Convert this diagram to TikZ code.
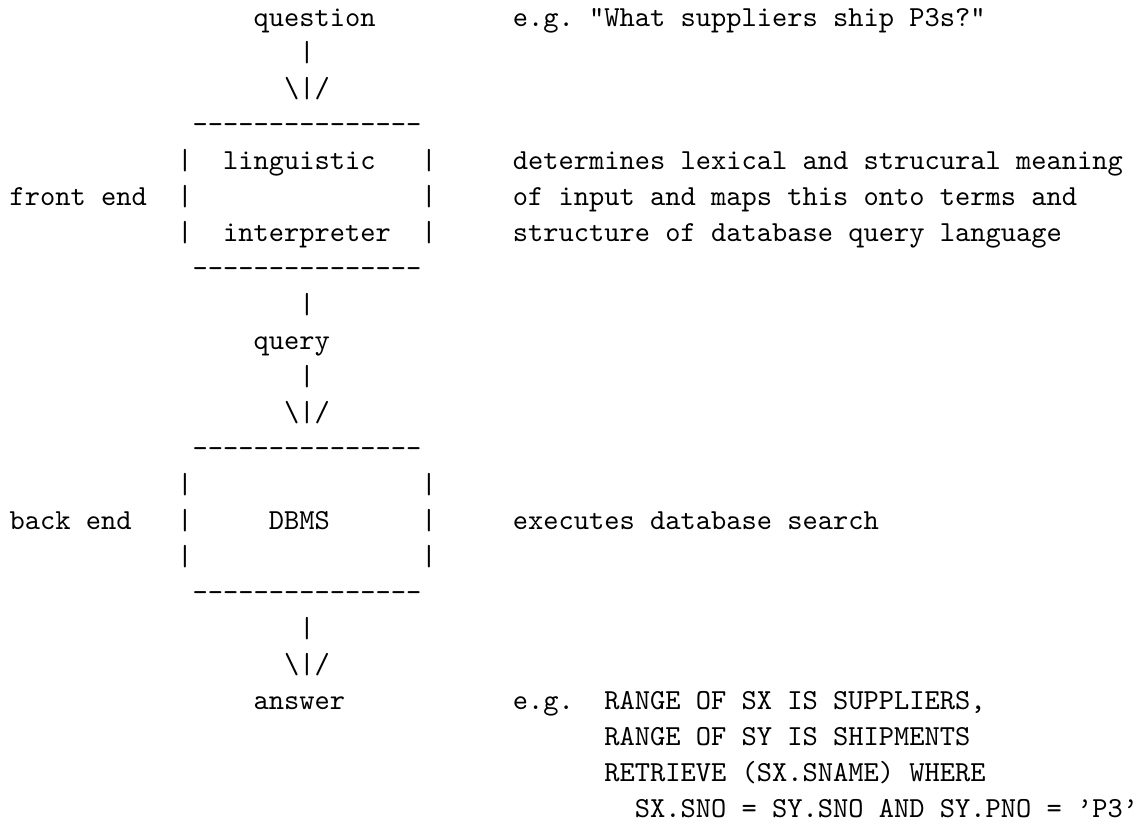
\documentclass[tikz,border=0pt]{standalone}
\tikzset{
  txt/.style={anchor=base west, inner sep=0pt, outer sep=0pt,
    font=\fontsize{10}{12}\selectfont\ttfamily\frenchspacing}
}
\newcommand\dashline{-\kern0pt-\kern0pt-\kern0pt-\kern0pt-\kern0pt-\kern0pt-\kern0pt-\kern0pt-\kern0pt-\kern0pt-\kern0pt-\kern0pt-\kern0pt-\kern0pt-}
\newcommand\arrowdown{\textbackslash|/}
\begin{document}
\begin{tikzpicture}[x=5.25pt,y=-12.39pt]
\fill[white] (-0.6286,0.2776) rectangle (74.19,23.26);
\useasboundingbox (-0.6286,0.2776) rectangle (74.19,23.26);
% row 1-3
\node[txt] (question) at (16,1) {question};
\node[txt] (eg1) at (33,1) {e.g. "What suppliers ship P3s?"};
\node[txt] (s1) at (19,2) {|};
\node[txt] (a1) at (18,3) {\arrowdown};
% front end box
\node[txt] (top1) at (12,4) {\dashline};
\node[txt] (l1) at (11,5) {|};
\node[txt] (ling) at (14,5) {linguistic};
\node[txt] (r1) at (27,5) {|};
\node[txt] (d1) at (33,5) {determines lexical and strucural meaning};
\node[txt] (fe) at (0,6) {front end};
\node[txt] (l2) at (11,6) {|};
\node[txt] (r2) at (27,6) {|};
\node[txt] (d2) at (33,6) {of input and maps this onto terms and};
\node[txt] (l3) at (11,7) {|};
\node[txt] (interp) at (14,7) {interpreter};
\node[txt] (r3) at (27,7) {|};
\node[txt] (d3) at (33,7) {structure of database query language};
\node[txt] (bot1) at (12,8) {\dashline};
% query
\node[txt] (s2) at (19,9) {|};
\node[txt] (query) at (16,10) {query};
\node[txt] (s3) at (19,11) {|};
\node[txt] (a2) at (18,12) {\arrowdown};
% back end box
\node[txt] (top2) at (12,13) {\dashline};
\node[txt] (l4) at (11,14) {|};
\node[txt] (r4) at (27,14) {|};
\node[txt] (be) at (0,15) {back end};
\node[txt] (l5) at (11,15) {|};
\node[txt] (dbms) at (17,15) {DBMS};
\node[txt] (r5) at (27,15) {|};
\node[txt] (exec) at (33,15) {executes database search};
\node[txt] (l6) at (11,16) {|};
\node[txt] (r6) at (27,16) {|};
\node[txt] (bot2) at (12,17) {\dashline};
% answer
\node[txt] (s4) at (19,18) {|};
\node[txt] (a3) at (18,19) {\arrowdown};
\node[txt] (answer) at (16,20) {answer};
\node[txt] (eg2) at (33,20) {e.g.};
\node[txt] (q1) at (39,20) {RANGE OF SX IS SUPPLIERS,};
\node[txt] (q2) at (39,21) {RANGE OF SY IS SHIPMENTS};
\node[txt] (q3) at (39,22) {RETRIEVE (SX.SNAME) WHERE};
\node[txt] (q4) at (41,23) {SX.SNO = SY.SNO AND SY.PNO = ’P3’};
\end{tikzpicture}
\end{document}
